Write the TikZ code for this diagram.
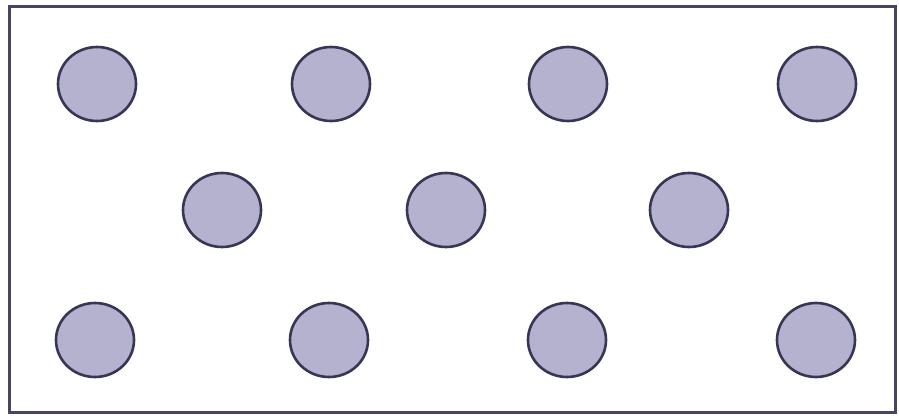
\documentclass[tikz,border=0pt]{standalone}
\usetikzlibrary{shapes.geometric}
\definecolor{dotfill}{RGB}{180,178,206}
\definecolor{dotline}{RGB}{55,55,85}
\definecolor{frameline}{RGB}{70,70,100}
\begin{document}
\begin{tikzpicture}[x=1pt,y=-1pt,
  dot/.style={ellipse,draw=dotline,fill=dotfill,line width=2.6pt,minimum width=78pt,minimum height=74pt,inner sep=0pt},
  frame/.style={draw=frameline,line width=3pt}]
\useasboundingbox (0,0) rectangle (899,419);
\fill[white] (0,0) rectangle (899,419);
\draw[frame] (9,7) rectangle (895,412);
\node[dot] (a1) at (97,84) {};
\node[dot] (a2) at (331,84) {};
\node[dot] (a3) at (568,84) {};
\node[dot] (a4) at (817,84) {};
\node[dot] (b1) at (222,210) {};
\node[dot] (b2) at (446,210) {};
\node[dot] (b3) at (689,210) {};
\node[dot] (c1) at (95,340) {};
\node[dot] (c2) at (329,340) {};
\node[dot] (c3) at (567,340) {};
\node[dot] (c4) at (816,340) {};
\end{tikzpicture}
\end{document}
